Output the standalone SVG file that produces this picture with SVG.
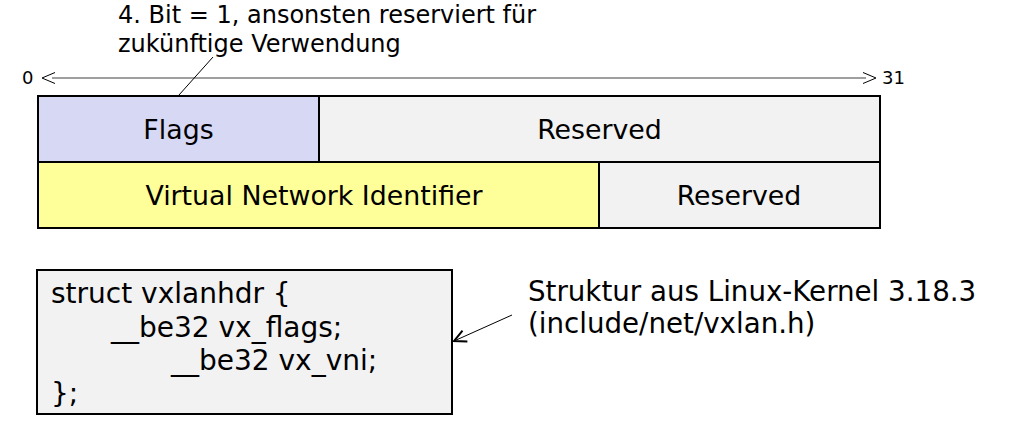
<svg xmlns="http://www.w3.org/2000/svg" width="1014" height="440" viewBox="0 0 1014 440">
<style>
.t{font-family:"DejaVu Sans",Verdana,sans-serif;fill:#000}
.c{font-family:"DejaVu Sans",Tahoma,sans-serif;fill:#000;font-size:28px}
.box{stroke:#000;stroke-width:2}
.ln{stroke:#000;stroke-width:1;fill:none}
</style>
<defs>
<marker id="ah" viewBox="0 0 14 14" refX="13" refY="7" markerWidth="14" markerHeight="14" markerUnits="userSpaceOnUse" orient="auto-start-reverse">
<path d="M1,1 L13,7 L1,13" fill="none" stroke="#000" stroke-width="2"/>
</marker>
</defs>
<rect width="1014" height="440" fill="#fff"/>
<g id="label-top">
<text class="t" x="118" y="23" font-size="24">4. Bit = 1, ansonsten reserviert für</text>
<text class="t" x="118" y="52" font-size="24">zukünftige Verwendung</text>
</g>
<g id="scale">
<text class="t" x="22" y="84" font-size="18">0</text>
<text class="t" x="882" y="84" font-size="18">31</text>
</g>
<g id="flags"><rect class="box" x="38" y="96" width="281" height="66" fill="#d6d8f4"/><text class="t" x="178.5" y="139" font-size="26.8" text-anchor="middle">Flags</text></g>
<g id="reserved1"><rect class="box" x="319" y="96" width="561" height="66" fill="#f2f2f2"/><text class="t" x="599.5" y="139" font-size="26.8" text-anchor="middle">Reserved</text></g>
<g id="vni"><rect class="box" x="38" y="162" width="561" height="66" fill="#ffff99"/><text class="t" x="314" y="205" font-size="26.8" text-anchor="middle">Virtual Network Identifier</text></g>
<g id="reserved2"><rect class="box" x="599" y="162" width="281" height="66" fill="#f2f2f2"/><text class="t" x="739" y="205" font-size="26.8" text-anchor="middle">Reserved</text></g>
<g id="struct">
<rect class="box" x="37" y="270" width="415" height="144" fill="#f2f2f2"/>
<text class="c" x="51" y="303">struct vxlanhdr {</text>
<text class="c" x="111" y="337">__be32 vx_flags;</text>
<text class="c" x="171" y="370">__be32 vx_vni;</text>
<text class="c" x="51" y="403">};</text>
</g>
<g id="label-struct">
<text class="t" x="528" y="301" font-size="27.7">Struktur aus Linux-Kernel 3.18.3</text>
<text class="t" x="528" y="333" font-size="27.7">(include/net/vxlan.h)</text>
</g>
<g id="connectors">
<line x1="52" y1="78" x2="866" y2="78" stroke="#7f7f7f" stroke-width="1.5"/>
<path class="ln" d="M55,72.5 L42,78 L55,83.5" stroke-width="3"/>
<path class="ln" d="M863,72.5 L876,78 L863,83.5" stroke-width="3"/>
<line class="ln" x1="179" y1="95" x2="213" y2="57"/>
<line class="ln" x1="512" y1="315" x2="454" y2="341" marker-end="url(#ah)"/>
</g>
</svg>
